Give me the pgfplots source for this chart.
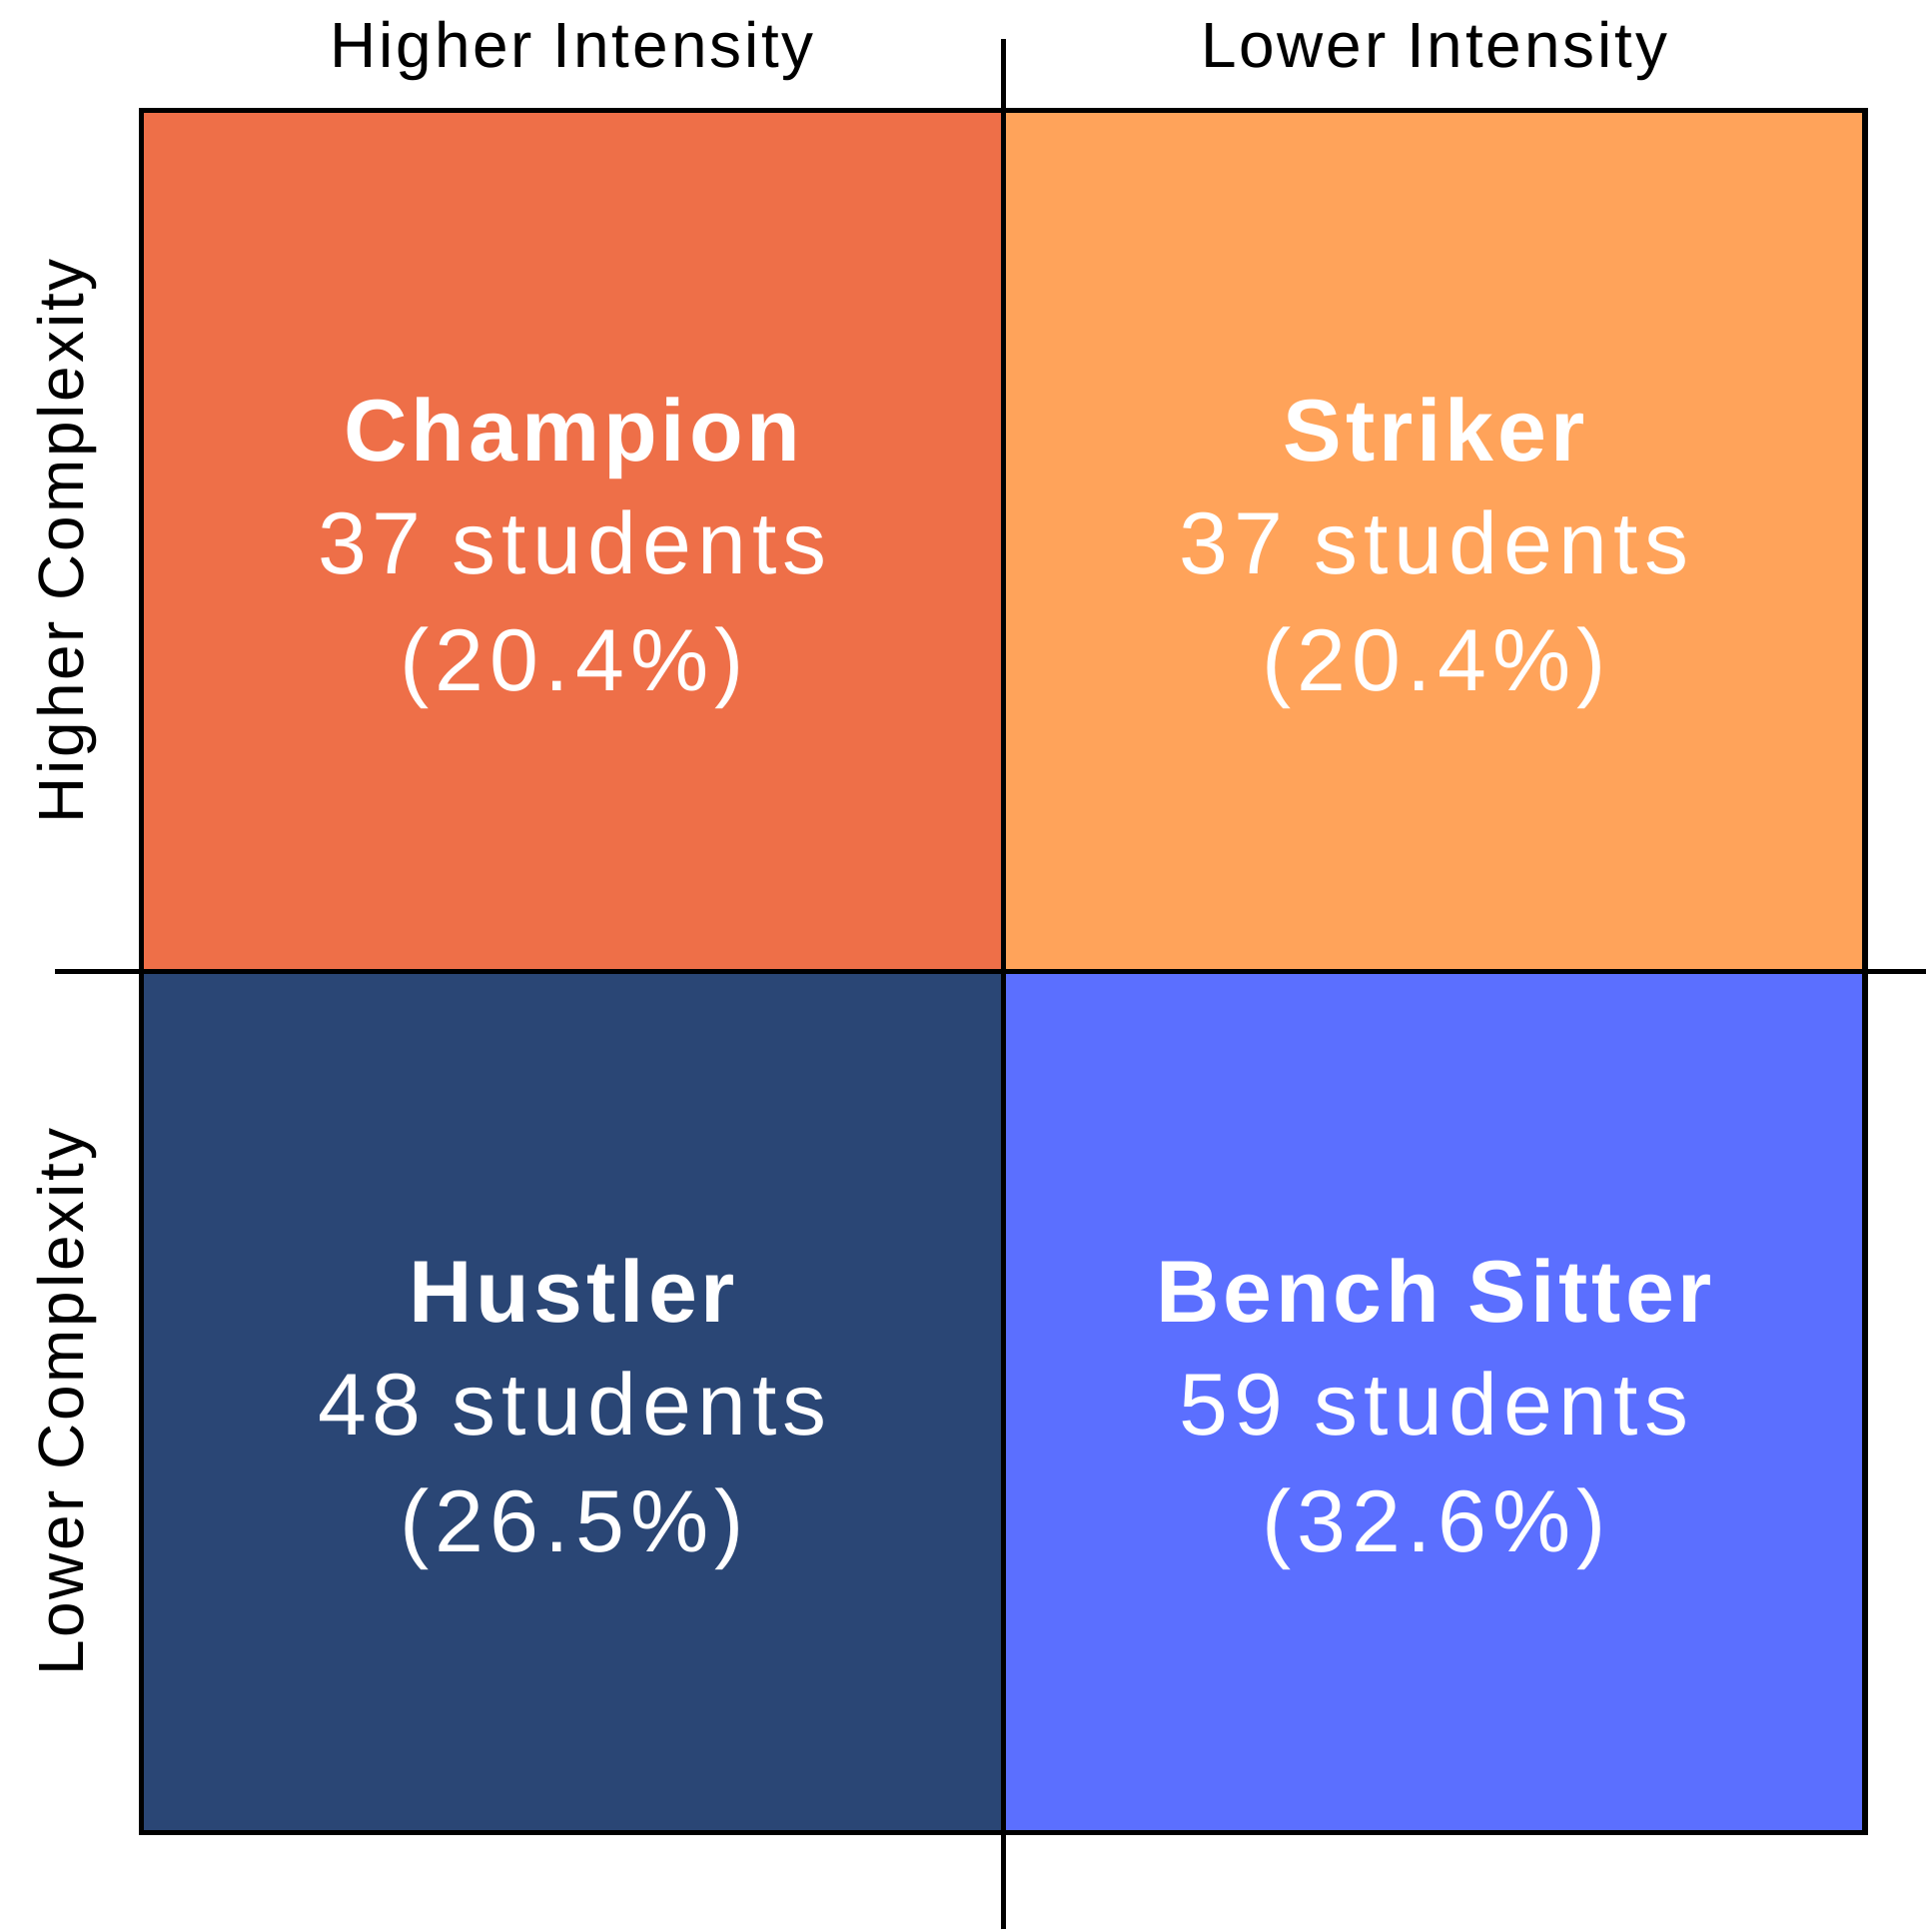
\documentclass[border=0pt]{standalone}
\usepackage{fontspec}
\setmainfont{Liberation Sans}
\newfontfamily\qreg[LetterSpace=7]{Liberation Sans}
\newfontfamily\qbold[LetterSpace=4.5]{Liberation Sans}
\newfontfamily\hreg[LetterSpace=4.5]{Liberation Sans}
\usepackage{pgfplots}
\pgfplotsset{compat=1.18}
\definecolor{cChamp}{HTML}{EE6F48}
\definecolor{cStrik}{HTML}{FFA35A}
\definecolor{cHust}{HTML}{2A4675}
\definecolor{cBench}{HTML}{5B6FFF}
\newcommand{\qfont}{\qreg\fontsize{22}{26}\selectfont}
\newcommand{\qbfont}{\qbold\bfseries\fontsize{22}{26}\selectfont}
\newcommand{\hdr}{\hreg\fontsize{16}{20}\selectfont}
\begin{document}
\begin{tikzpicture}
\begin{axis}[
  hide axis, scale only axis, clip=false,
  width=482.75pt, height=483.5pt,
  xmin=-0.164, xmax=2.071, ymin=-0.112, ymax=2.1285,
]
\path (rel axis cs:0,0) rectangle (rel axis cs:1,1);
% quadrants
\addplot[fill=cChamp, draw=none] coordinates {(0,1) (1,1) (1,2) (0,2)} -- cycle;
\addplot[fill=cStrik, draw=none] coordinates {(1,1) (2,1) (2,2) (1,2)} -- cycle;
\addplot[fill=cHust, draw=none] coordinates {(0,0) (1,0) (1,1) (0,1)} -- cycle;
\addplot[fill=cBench, draw=none] coordinates {(1,0) (2,0) (2,1) (1,1)} -- cycle;
% frame and dividers
\addplot[black, line width=1.35pt] coordinates {(0,0) (2,0) (2,2) (0,2)} -- cycle;
\addplot[black, line width=1.35pt] coordinates {(1,-0.112) (1,2.0828)};
\addplot[black, line width=1.35pt] coordinates {(-0.0999,1) (2.071,1)};
% headers
\node[anchor=base, font=\hdr] at (axis cs:0.5,2.05) {Higher Intensity};
\node[anchor=base, font=\hdr] at (axis cs:1.5,2.05) {Lower Intensity};
\node[anchor=base, rotate=90, font=\hdr] at (axis cs:-0.0671,1.5) {Higher Complexity};
\node[anchor=base, rotate=90, font=\hdr] at (axis cs:-0.0671,0.5) {Lower Complexity};
% quadrant text
\node[anchor=base, text=white, font=\qbfont] at (axis cs:0.5,1.5932) {Champion};
\node[anchor=base, text=white, font=\qfont] at (axis cs:0.5,1.4618) {37 students};
\node[anchor=base, text=white, font=\qfont] at (axis cs:0.5,1.3262) {(20.4\%)};
\node[anchor=base, text=white, font=\qbfont] at (axis cs:1.5,1.5932) {Striker};
\node[anchor=base, text=white, font=\qfont] at (axis cs:1.5,1.4618) {37 students};
\node[anchor=base, text=white, font=\qfont] at (axis cs:1.5,1.3262) {(20.4\%)};
\node[anchor=base, text=white, font=\qbfont] at (axis cs:0.5,0.5932) {Hustler};
\node[anchor=base, text=white, font=\qfont] at (axis cs:0.5,0.4618) {48 students};
\node[anchor=base, text=white, font=\qfont] at (axis cs:0.5,0.3262) {(26.5\%)};
\node[anchor=base, text=white, font=\qbfont] at (axis cs:1.5,0.5932) {Bench Sitter};
\node[anchor=base, text=white, font=\qfont] at (axis cs:1.5,0.4618) {59 students};
\node[anchor=base, text=white, font=\qfont] at (axis cs:1.5,0.3262) {(32.6\%)};
\end{axis}
\end{tikzpicture}
\end{document}
